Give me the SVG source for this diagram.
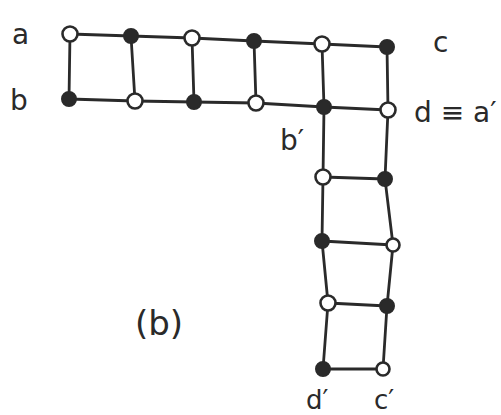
<svg xmlns="http://www.w3.org/2000/svg" width="501" height="415" viewBox="0 0 501 415">
<style>
.e{stroke:#2a2a2a;stroke-width:2.8;fill:none;stroke-linecap:round;stroke-linejoin:round}
.o{fill:#fff;stroke:#2a2a2a;stroke-width:2.6}
.f{fill:#2a2a2a;stroke:#2a2a2a;stroke-width:2}
.t{font-family:"DejaVu Sans",sans-serif;font-size:28px;fill:#2a2a2a}
</style>
<rect width="501" height="415" fill="#fff"/>
<g id="connectors" class="e">
<polyline points="70,34 131,36 192,38 254,41 322,44 387,47"/>
<polyline points="69,99 135,101 194,102 256,103 324,107 388,110"/>
<line x1="70" y1="34" x2="69" y2="99"/>
<line x1="131" y1="36" x2="135" y2="101"/>
<line x1="192" y1="38" x2="194" y2="102"/>
<line x1="254" y1="41" x2="256" y2="103"/>
<line x1="322" y1="44" x2="324" y2="107"/>
<line x1="387" y1="47" x2="388" y2="110"/>
<polyline points="324,107 323,177 322,241 328,303 323,369"/>
<polyline points="388,110 385,179 393,245 387,306 383,369"/>
<line x1="323" y1="177" x2="385" y2="179"/>
<line x1="322" y1="241" x2="393" y2="245"/>
<line x1="328" y1="303" x2="387" y2="306"/>
<line x1="323" y1="369" x2="383" y2="369"/>
</g>
<g id="n1"><circle class="o" cx="70" cy="34" r="7.5"/></g>
<g id="n2"><circle class="f" cx="131" cy="36" r="7"/></g>
<g id="n3"><circle class="o" cx="192" cy="38" r="7.5"/></g>
<g id="n4"><circle class="f" cx="254" cy="41" r="7"/></g>
<g id="n5"><circle class="o" cx="322" cy="44" r="7.5"/></g>
<g id="n6"><circle class="f" cx="387" cy="47" r="7"/></g>
<g id="n7"><circle class="f" cx="69" cy="99" r="7"/></g>
<g id="n8"><circle class="o" cx="135" cy="101" r="7.5"/></g>
<g id="n9"><circle class="f" cx="194" cy="102" r="7"/></g>
<g id="n10"><circle class="o" cx="256" cy="103" r="7.5"/></g>
<g id="n11"><circle class="f" cx="324" cy="107" r="7"/></g>
<g id="n12"><circle class="o" cx="388" cy="110" r="7.5"/></g>
<g id="n13"><circle class="o" cx="323" cy="177" r="7.5"/></g>
<g id="n14"><circle class="f" cx="385" cy="179" r="7"/></g>
<g id="n15"><circle class="f" cx="322" cy="241" r="7"/></g>
<g id="n16"><circle class="o" cx="393" cy="245" r="6.5"/></g>
<g id="n17"><circle class="o" cx="328" cy="303" r="7.5"/></g>
<g id="n18"><circle class="f" cx="387" cy="306" r="7"/></g>
<g id="n19"><circle class="f" cx="323" cy="369" r="7"/></g>
<g id="n20"><circle class="o" cx="383" cy="369" r="6.5"/></g>
<g id="labels" class="t">
<text x="12" y="44">a</text>
<text x="10" y="110">b</text>
<text x="433" y="52">c</text>
<text x="414" y="122">d ≡ a′</text>
<text x="280" y="150">b′</text>
<text x="306" y="409" font-size="26">d′</text>
<text x="374" y="409" font-size="26">c′</text>
<text x="135" y="335" font-size="34">(b)</text>
</g>
</svg>
